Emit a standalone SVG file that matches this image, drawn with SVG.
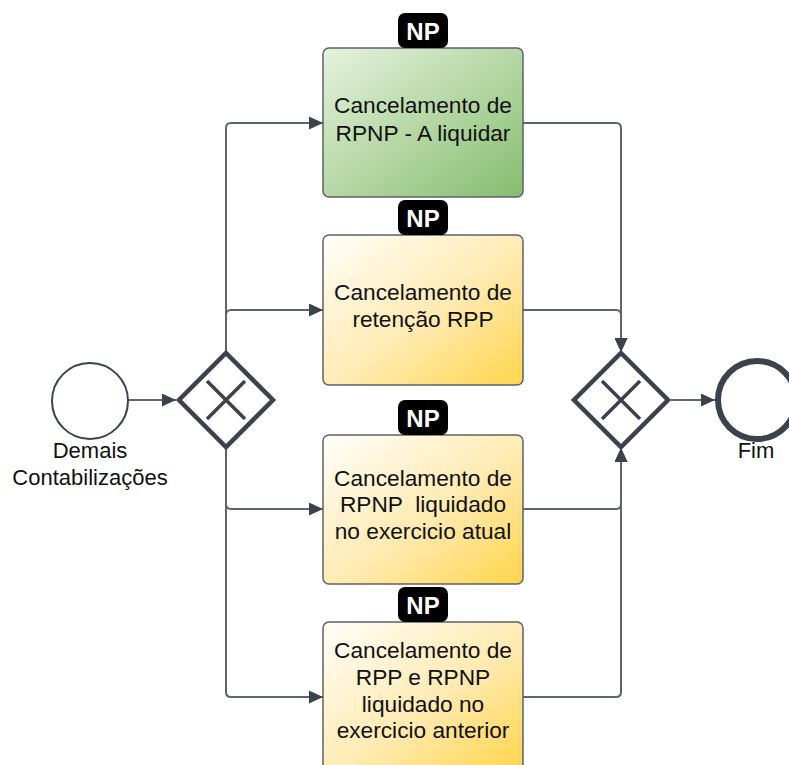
<svg xmlns="http://www.w3.org/2000/svg" width="789" height="765" viewBox="0 0 789 765">
  <defs>
    <linearGradient id="gGreen" x1="0" y1="0" x2="1" y2="1">
      <stop offset="0" stop-color="#e6f2de"/>
      <stop offset="1" stop-color="#86bd6e"/>
    </linearGradient>
    <linearGradient id="gYellow" x1="0" y1="0" x2="1" y2="1">
      <stop offset="0" stop-color="#fffefa"/>
      <stop offset="0.55" stop-color="#ffeab0"/>
      <stop offset="1" stop-color="#ffd54a"/>
    </linearGradient>
    <marker id="arr" markerWidth="15" markerHeight="13" refX="14" refY="6.5" orient="auto" markerUnits="userSpaceOnUse">
      <path d="M0,0 L14,6.5 L0,13 Z" fill="#3b424c"/>
    </marker>
  </defs>
  <style>
    .conn { fill: none; stroke: #5f656d; stroke-width: 2; }
    .task { stroke: #5e6168; stroke-width: 1.5; }
    .gw { fill: #ffffff; stroke: #3b424c; stroke-width: 4.5; stroke-linejoin: miter; }
    .gx { stroke: #3b424c; stroke-width: 3.5; }
    .lbl { font-family: "Liberation Sans", Arial, sans-serif; font-size: 22px; fill: #111111; text-anchor: middle; }
    .txt { font-family: "Liberation Sans", Arial, sans-serif; font-size: 22.7px; fill: #111111; text-anchor: middle; }
    .badge { fill: #000000; }
    .btxt { font-family: "Liberation Sans", Arial, sans-serif; font-size: 24px; font-weight: bold; fill: #ffffff; text-anchor: middle; }
  </style>
  <rect width="789" height="765" fill="#ffffff"/>

  <g id="connectors">
    <path class="conn" d="M128 400 H176" marker-end="url(#arr)"/>
    <path class="conn" d="M226 352 V128 Q226 123 231 123 H323" marker-end="url(#arr)"/>
    <path class="conn" d="M226 352 V315 Q226 310 231 310 H323" marker-end="url(#arr)"/>
    <path class="conn" d="M226 448 V504 Q226 509 231 509 H323" marker-end="url(#arr)"/>
    <path class="conn" d="M226 448 V692 Q226 697 231 697 H323" marker-end="url(#arr)"/>
    <path class="conn" d="M523 123 H616 Q621 123 621 128 V352" marker-end="url(#arr)"/>
    <path class="conn" d="M523 310 H616 Q621 310 621 315 V352" marker-end="url(#arr)"/>
    <path class="conn" d="M523 509 H616 Q621 509 621 504 V448" marker-end="url(#arr)"/>
    <path class="conn" d="M523 697 H616 Q621 697 621 692 V448" marker-end="url(#arr)"/>
    <path class="conn" d="M671 400 H715" marker-end="url(#arr)"/>
  </g>

  <g id="start">
    <circle cx="90" cy="401" r="38" fill="#ffffff" stroke="#3b424c" stroke-width="2"/>
    <text class="lbl" x="90" y="458">Demais</text>
    <text class="lbl" x="90" y="485">Contabilizações</text>
  </g>

  <g id="gateway1">
    <path class="gw" d="M226 353 L273 400 L226 447 L179 400 Z"/>
    <path class="gx" d="M207 381 L245 419 M245 381 L207 419"/>
  </g>

  <g id="task1">
    <rect class="task" x="323" y="48" width="200" height="149" rx="6" fill="url(#gGreen)"/>
    <text class="txt" x="423" y="113">Cancelamento de</text>
    <text class="txt" x="423" y="141">RPNP - A liquidar</text>
    <rect class="badge" x="398" y="13" width="50" height="35" rx="7"/>
    <text class="btxt" x="423" y="40">NP</text>
  </g>

  <g id="task2">
    <rect class="task" x="323" y="235" width="200" height="150" rx="6" fill="url(#gYellow)"/>
    <text class="txt" x="423" y="300">Cancelamento de</text>
    <text class="txt" x="423" y="327">retenção RPP</text>
    <rect class="badge" x="398" y="200" width="50" height="35" rx="7"/>
    <text class="btxt" x="423" y="227">NP</text>
  </g>

  <g id="task3">
    <rect class="task" x="323" y="435" width="200" height="149" rx="6" fill="url(#gYellow)"/>
    <text class="txt" x="423" y="486">Cancelamento de</text>
    <text class="txt" x="423" y="512" xml:space="preserve">RPNP  liquidado</text>
    <text class="txt" x="423" y="539">no exercicio atual</text>
    <rect class="badge" x="398" y="400" width="50" height="35" rx="7"/>
    <text class="btxt" x="423" y="427">NP</text>
  </g>

  <g id="task4">
    <rect class="task" x="323" y="622" width="200" height="150" rx="6" fill="url(#gYellow)"/>
    <text class="txt" x="423" y="658">Cancelamento de</text>
    <text class="txt" x="423" y="685">RPP e RPNP</text>
    <text class="txt" x="423" y="712">liquidado no</text>
    <text class="txt" x="423" y="738">exercicio anterior</text>
    <rect class="badge" x="398" y="587" width="50" height="35" rx="7"/>
    <text class="btxt" x="423" y="614">NP</text>
  </g>

  <g id="gateway2">
    <path class="gw" d="M621 353 L668 400 L621 447 L574 400 Z"/>
    <path class="gx" d="M602 381 L640 419 M640 381 L602 419"/>
  </g>

  <g id="end">
    <circle cx="757" cy="400" r="39" fill="#ffffff" stroke="#3b424c" stroke-width="6"/>
    <text class="lbl" x="756" y="458">Fim</text>
  </g>
</svg>
